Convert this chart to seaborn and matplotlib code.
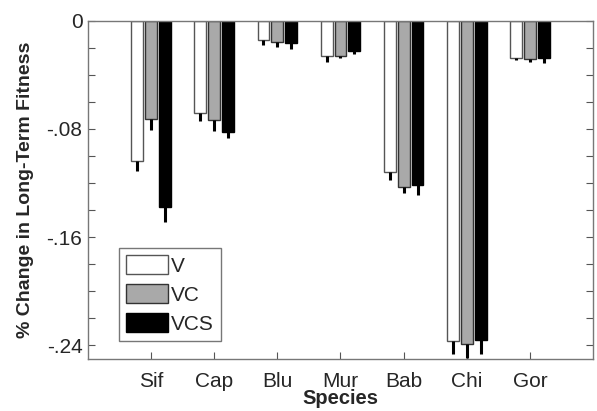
import numpy as np
import pandas as pd
import seaborn as sns
import matplotlib.pyplot as plt
from matplotlib.patches import Patch
from matplotlib.ticker import MultipleLocator

species = ['Sif', 'Cap', 'Blu', 'Mur', 'Bab', 'Chi', 'Gor']
treatments = ['V', 'VC', 'VCS']

v_mean = [-0.104, -0.068, -0.0144, -0.026, -0.112, -0.237, -0.0274]
vc_mean = [-0.073, -0.0736, -0.016, -0.026, -0.123, -0.2386, -0.0286]
vcs_mean = [-0.138, -0.0826, -0.0166, -0.0225, -0.1217, -0.2356, -0.028]

v_err = [0.0074, 0.006, 0.004, 0.0044, 0.006, 0.0096, 0.0015]
vc_err = [0.008, 0.008, 0.0037, 0.002, 0.0044, 0.0104, 0.002]
vcs_err = [0.011, 0.004, 0.0044, 0.002, 0.007, 0.0104, 0.003]

colors = ['white', '#a9a9a9', 'black']
edges = ['#555555', '#333333', 'black']

df = pd.DataFrame({
    'Species': species * 3,
    'Treatment': ['V'] * 7 + ['VC'] * 7 + ['VCS'] * 7,
    'Change': v_mean + vc_mean + vcs_mean,
    'Err': v_err + vc_err + vcs_err,
})

sns.set_style('white')
plt.rcParams['font.family'] = ['Liberation Sans', 'DejaVu Sans']

fig = plt.figure(figsize=(5.97, 4.11), dpi=100)
ax = fig.add_axes([0.1474, 0.1265, 0.8459, 0.8235])

sns.barplot(data=df, x='Species', y='Change', hue='Treatment', order=species,
            hue_order=treatments, palette=colors, width=0.66, gap=0.14,
            errorbar=None, legend=False, ax=ax)

# recolour edges and add lower error bars
bar_groups = list(ax.containers)
for i, cont in enumerate(bar_groups):
    errs = df[df['Treatment'] == treatments[i]]['Err'].values
    for bar, e in zip(cont, errs):
        bar.set_edgecolor(edges[i])
        bar.set_linewidth(1.0)
        cx = bar.get_x() + bar.get_width() / 2
        h = bar.get_height()
        ax.errorbar(cx, h, yerr=[[e], [0]], fmt='none', ecolor='black',
                    elinewidth=2.2, capsize=0, zorder=1)

ax.set_xlim(-1, 7)
ax.set_ylim(-0.25, 0)
ax.yaxis.set_major_locator(MultipleLocator(0.08))
ax.yaxis.set_minor_locator(MultipleLocator(0.02))
ax.set_yticks([0, -0.08, -0.16, -0.24])
ax.set_yticklabels(['0', '-.08', '-.16', '-.24'])

ax.tick_params(axis='y', which='both', direction='in', left=True, right=True,
               length=5, width=0.8, color='#555555', labelsize=15, pad=4)
ax.tick_params(axis='x', which='both', direction='in', bottom=True, top=False,
               length=5, width=0.8, color='#555555', labelsize=15, pad=9)

for s in ax.spines.values():
    s.set_visible(True)
    s.set_color('#777777')
    s.set_linewidth(1.0)

ax.set_xlabel('Species', fontsize=14.5, fontweight='bold', labelpad=-1)
ax.set_ylabel('% Change in Long-Term Fitness', fontsize=14,
              fontweight='bold', labelpad=9)

handles = [Patch(facecolor=colors[i], edgecolor=edges[i], linewidth=1.0,
                 label=treatments[i]) for i in range(3)]
leg = ax.legend(handles=handles, loc='lower left', bbox_to_anchor=(0.061, 0.053),
                borderaxespad=0, fontsize=15, frameon=True, fancybox=False,
                edgecolor='#555555', handlelength=2.0, handleheight=1.05,
                labelspacing=0.4, handletextpad=0.15, borderpad=0.35)
leg.get_frame().set_linewidth(1.0)

fig.savefig('out.png', dpi=100)
